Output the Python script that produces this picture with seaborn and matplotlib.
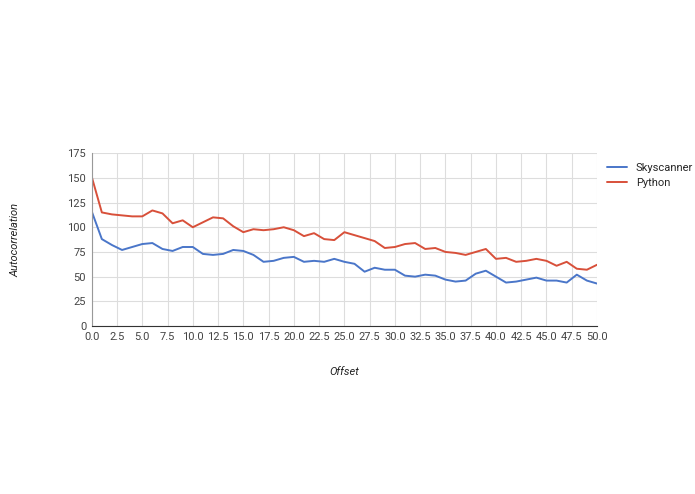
import numpy as np
import pandas as pd
import matplotlib
matplotlib.use('Agg')
import matplotlib.pyplot as plt
import seaborn as sns

offset = list(range(51))
skyscanner = [116, 88, 82, 77, 80, 83, 84, 78, 76, 80, 80, 73, 72, 73, 77, 76, 72, 65, 66, 69,
              70, 65, 66, 65, 68, 65, 63, 55, 59, 57, 57, 51, 50, 52, 51, 47, 45, 46, 53, 56,
              50, 44, 45, 47, 49, 46, 46, 44, 52, 46, 43]
python = [151, 115, 113, 112, 111, 111, 117, 114, 104, 107, 100, 105, 110, 109, 101, 95, 98, 97, 98, 100,
          97, 91, 94, 88, 87, 95, 92, 89, 86, 79, 80, 83, 84, 78, 79, 75, 74, 72, 75, 78,
          68, 69, 65, 66, 68, 66, 61, 65, 58, 57, 62]
xticks = np.arange(0, 50.1, 2.5)
yticks = [0, 25, 50, 75, 100, 125, 150, 175]

df = pd.DataFrame({'Offset': offset * 2,
                   'value': skyscanner + python,
                   'series': ['Skyscanner'] * 51 + ['Python'] * 51})

sns.set_style('white')
plt.rcParams['font.family'] = ['Roboto', 'DejaVu Sans']
fig = plt.figure(figsize=(6.95, 4.94), dpi=100)
ax = fig.add_axes([0.132, 0.34, 0.727, 0.35])
sns.lineplot(data=df, x='Offset', y='value', hue='series',
             palette={'Skyscanner': '#4a76c9', 'Python': '#d8503a'},
             linewidth=1.4, ax=ax)
ax.set_xlim(0, 50)
ax.set_ylim(0, 175)
ax.set_xticks(xticks)
ax.set_xticklabels([f'{t:.1f}' for t in xticks])
ax.set_yticks(yticks)
ax.tick_params(length=0, labelsize=8, colors='#444444', pad=4)
ax.grid(True, color='#dddddd', linewidth=0.8)
for s in ['top', 'right']:
    ax.spines[s].set_visible(False)
ax.spines['bottom'].set_color('#333333')
ax.spines['left'].set_color('#999999')
ax.set_xlabel('Offset', style='italic', fontsize=8, labelpad=18, color='#222222')
ax.set_ylabel('Autocorrelation', style='italic', fontsize=8, labelpad=34, color='#222222')
ax.legend(title=None, loc='upper left', bbox_to_anchor=(1.0, 1.0), frameon=False,
          fontsize=8, handlelength=1.8, labelspacing=0.4)
fig.savefig('out.png', dpi=100)
